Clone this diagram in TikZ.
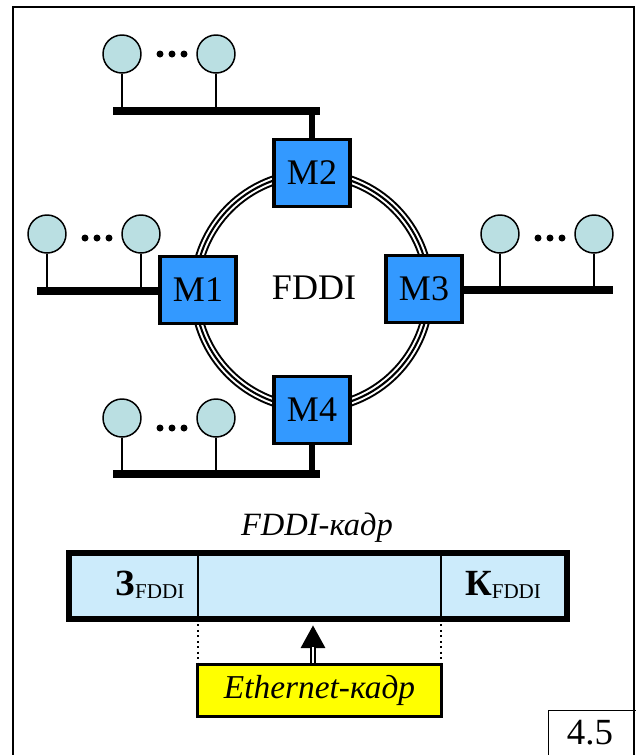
\documentclass[tikz,border=0pt]{standalone}
\usepackage{fontspec}
\setmainfont{Liberation Serif}
\usetikzlibrary{arrows.meta,calc,positioning}
\definecolor{modblue}{HTML}{3399FF}
\definecolor{stationfill}{HTML}{BADFE2}
\definecolor{framefill}{HTML}{CCEBFB}
\definecolor{ethyellow}{HTML}{FFFF00}
\tikzset{
  modbox/.style={draw,fill=modblue,line width=2.2pt,minimum width=1.52cm,minimum height=1.34cm,inner sep=0pt,font=\fontsize{20.5}{24}\selectfont},
  station/.style={circle,draw,fill=stationfill,line width=0.85pt,minimum size=0.76cm,inner sep=0pt},
  stem/.style={line width=0.85pt},
  bus/.style={line width=4.4pt},
  drop/.style={line width=3.4pt}
}

\begin{document}
\begin{tikzpicture}[x=0.02cm,y=-0.02cm]
  \useasboundingbox (0,0) rectangle (636,755);
  \draw[line width=1.1pt] (13,770) -- (13,7) -- (634,7) -- (634,770);
  % FDDI ring
  \coordinate (ring) at (312,291);
  \draw[line width=5.8pt] (ring) circle[radius=2.34cm];
  \draw[white,line width=3.5pt] (ring) circle[radius=2.34cm];
  \draw[line width=1.2pt] (ring) circle[radius=2.34cm];
  \node[font=\fontsize{20.5}{24}\selectfont] (ringname) at (314,288) {FDDI};
  % station groups
  \foreach \g/\xa/\xb/\yc/\yd/\yb/\bl/\br in {t/122/216/54/54/111/113/320,
      l/47/141/234/238/291/37/160, r/500/594/234/238/290/462/613,
      b/122/216/418/428/474/113/320}{
    \node[station] (\g1) at (\xa,\yc) {};
    \node[station] (\g2) at (\xb,\yc) {};
    \coordinate (\g-bl) at (\bl,\yb);
    \coordinate (\g-br) at (\br,\yb);
    \draw[bus] (\g-bl) -- (\g-br);
    \draw[stem] (\g1) -- (\g1 |- \g-bl);
    \draw[stem] (\g2) -- (\g2 |- \g-bl);
    \foreach \dx in {-12,0,12}
      \fill ($(\g1)!0.5!(\g2)+(\dx+3,\yd-\yc)$) circle[radius=0.07cm];
  }
  % modules
  \node[modbox] (m2) at (312,173) {M2};
  \node[modbox] (m1) at (198,290) {M1};
  \node[modbox] (m3) at (424,289) {M3};
  \node[modbox] (m4) at (312,410) {M4};
  \draw[drop] (m2.north) -- (m2.north |- t-bl);
  \draw[drop] (m4.south) -- (m4.south |- b-bl);
  % FDDI frame
  \node[font=\fontsize{18.5}{22}\selectfont\itshape] (frtitle) at (317,528) {FDDI-кадр};
  \node[draw,fill=framefill,line width=3.4pt,minimum width=9.96cm,minimum height=1.32cm,inner sep=0pt] (fr) at (318,586) {};
  \coordinate (divl) at (198,619);
  \coordinate (divr) at (441,619);
  \draw[line width=1.1pt] (divl) -- (divl |- fr.north);
  \draw[line width=1.1pt] (divr) -- (divr |- fr.north);
  \node[font=\fontsize{21}{24}\selectfont] (hdr) at (150,585) {\textbf{З}{\fontsize{12}{14}\selectfont\raisebox{-1.8pt}{FDDI}}};
  \node[font=\fontsize{21}{24}\selectfont] (trl) at (503,585) {\textbf{К}{\fontsize{12}{14}\selectfont\raisebox{-1.8pt}{FDDI}}};
  % Ethernet frame
  \node[draw,fill=ethyellow,line width=1.7pt,minimum width=4.88cm,minimum height=1.04cm,inner sep=0pt,font=\fontsize{19}{22}\selectfont\itshape] (eth) at (319.5,690.5) {Ethernet-кадр};
  \draw[dotted,line width=1.1pt] (divl) -- (divl |- eth.north);
  \draw[dotted,line width=1.1pt] (divr) -- (divr |- eth.north);
  \coordinate (tip) at (313,625);
  \draw[line width=3.4pt,-{Triangle[length=0.46cm,width=0.46cm]}] (eth.north -| tip) -- (tip);
  \draw[white,line width=1.1pt] (eth.north -| tip) -- ++(0,-16);
  % figure number
  \node[draw,line width=0.7pt,anchor=north west,minimum width=1.76cm,minimum height=1.1cm,inner sep=0pt,font=\fontsize{21}{24}\selectfont] (fignum) at (548,710) {};
  \node[font=\fontsize{21}{24}\selectfont] (fignumtext) at (590,733) {4.5};
\end{tikzpicture}
\end{document}
